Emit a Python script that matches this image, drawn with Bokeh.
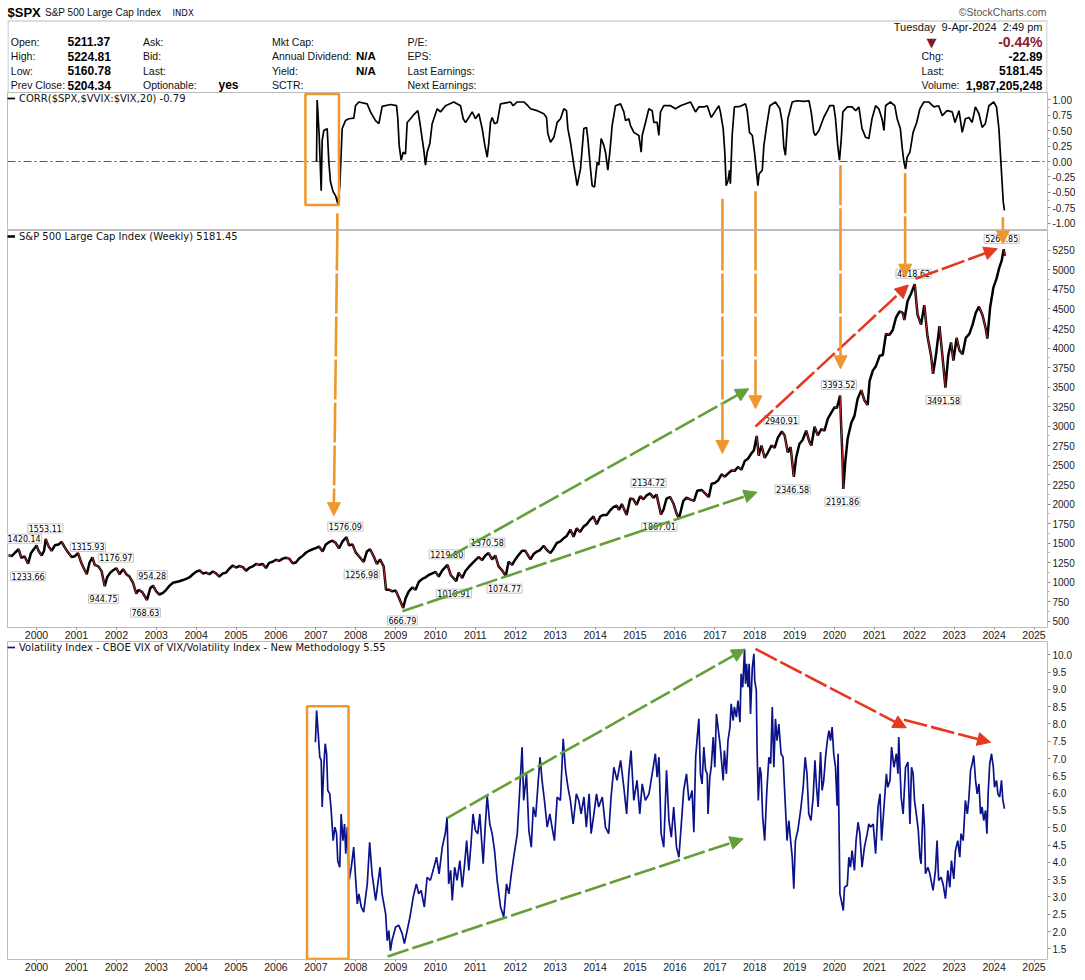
from bokeh.plotting import figure
from bokeh.models import (Range1d, FixedTicker, NumeralTickFormatter, Label, Arrow,
                          NormalHead, BoxAnnotation, Span, ColumnDataSource)
from bokeh.layouts import column
from bokeh.embed import file_html
from bokeh.resources import INLINE

# ---------------- data ----------------
spx_t = [1999.30, 1999.38, 1999.46, 1999.55, 1999.62, 1999.70, 1999.79, 1999.86, 1999.94,
         2000.00, 2000.05, 2000.13, 2000.19, 2000.23, 2000.30, 2000.38, 2000.46, 2000.55, 2000.63, 2000.70, 2000.79, 2000.88, 2000.96,
         2001.04, 2001.12, 2001.20, 2001.26, 2001.33, 2001.40, 2001.46, 2001.55, 2001.63, 2001.71, 2001.77, 2001.85, 2001.92,
         2002.00, 2002.08, 2002.17, 2002.25, 2002.33, 2002.42, 2002.50, 2002.56, 2002.65, 2002.77, 2002.85, 2002.92,
         2003.00, 2003.08, 2003.17, 2003.25, 2003.33, 2003.42, 2003.50, 2003.58, 2003.67, 2003.75, 2003.83, 2003.92,
         2004.00, 2004.08, 2004.17, 2004.25, 2004.33, 2004.42, 2004.50, 2004.58, 2004.67, 2004.75, 2004.83, 2004.92,
         2005.00, 2005.08, 2005.17, 2005.25, 2005.33, 2005.42, 2005.50, 2005.58, 2005.67, 2005.75, 2005.83, 2005.92,
         2006.00, 2006.08, 2006.17, 2006.25, 2006.33, 2006.42, 2006.50, 2006.58, 2006.67, 2006.75, 2006.83, 2006.92,
         2007.00, 2007.08, 2007.17, 2007.25, 2007.33, 2007.42, 2007.50, 2007.58, 2007.67, 2007.77, 2007.83, 2007.92,
         2008.00, 2008.08, 2008.20, 2008.28, 2008.36, 2008.45, 2008.53, 2008.61, 2008.70, 2008.76, 2008.84, 2008.92,
         2009.00, 2009.08, 2009.19, 2009.25, 2009.33, 2009.42, 2009.50, 2009.58, 2009.67, 2009.75, 2009.83, 2009.92,
         2010.00, 2010.08, 2010.17, 2010.30, 2010.38, 2010.52, 2010.58, 2010.67, 2010.75, 2010.83, 2010.92,
         2011.00, 2011.08, 2011.17, 2011.25, 2011.33, 2011.42, 2011.50, 2011.58, 2011.67, 2011.76, 2011.83, 2011.92,
         2012.00, 2012.08, 2012.17, 2012.25, 2012.38, 2012.46, 2012.54, 2012.62, 2012.71, 2012.79, 2012.88, 2012.96,
         2013.04, 2013.13, 2013.21, 2013.29, 2013.38, 2013.46, 2013.54, 2013.62, 2013.71, 2013.79, 2013.88, 2013.96,
         2014.04, 2014.13, 2014.21, 2014.29, 2014.38, 2014.46, 2014.54, 2014.60, 2014.67, 2014.79, 2014.88, 2014.96,
         2015.04, 2015.13, 2015.21, 2015.29, 2015.38, 2015.46, 2015.54, 2015.65, 2015.71, 2015.79, 2015.88, 2015.96,
         2016.04, 2016.10, 2016.21, 2016.29, 2016.38, 2016.48, 2016.56, 2016.67, 2016.75, 2016.85, 2016.92,
         2017.00, 2017.08, 2017.17, 2017.25, 2017.33, 2017.42, 2017.50, 2017.58, 2017.67, 2017.75, 2017.83, 2017.92, 2017.98,
         2018.05, 2018.10, 2018.17, 2018.25, 2018.33, 2018.42, 2018.50, 2018.58, 2018.68, 2018.75, 2018.83, 2018.90, 2018.98,
         2019.04, 2019.12, 2019.20, 2019.29, 2019.37, 2019.42, 2019.50, 2019.58, 2019.67, 2019.75, 2019.83, 2019.92,
         2020.00, 2020.06, 2020.14, 2020.17, 2020.20, 2020.22, 2020.27, 2020.33, 2020.42, 2020.50, 2020.58, 2020.67, 2020.75, 2020.83, 2020.88, 2020.96,
         2021.04, 2021.13, 2021.21, 2021.29, 2021.38, 2021.46, 2021.54, 2021.63, 2021.71, 2021.75, 2021.83, 2021.92,
         2022.01, 2022.08, 2022.17, 2022.25, 2022.33, 2022.42, 2022.47, 2022.54, 2022.63, 2022.71, 2022.78, 2022.85, 2022.92, 2022.98,
         2023.06, 2023.13, 2023.21, 2023.29, 2023.38, 2023.46, 2023.54, 2023.62, 2023.71, 2023.79, 2023.83, 2023.90, 2023.98,
         2024.06, 2024.13, 2024.19, 2024.24, 2024.27]
spx_v = [1345, 1332, 1375, 1420, 1310, 1330, 1234, 1370, 1425,
         1469, 1400, 1340, 1400, 1553, 1460, 1400, 1470, 1480, 1515, 1450, 1380, 1320, 1330,
         1370, 1250, 1160, 1100, 1250, 1316, 1220, 1200, 1140, 945, 1060, 1120, 1150,
         1177, 1100, 1165, 1100, 1070, 990, 850, 900, 870, 769, 920, 954,
         880, 840, 860, 900, 950, 990, 1000, 1010, 1025, 1040, 1058, 1100,
         1130, 1150, 1110, 1120, 1100, 1135, 1110, 1070, 1110, 1120, 1170, 1212,
         1185, 1205, 1190, 1145, 1180, 1200, 1230, 1220, 1230, 1180, 1245, 1260,
         1285, 1270, 1300, 1310, 1300, 1240, 1250, 1300, 1335, 1375, 1400, 1420,
         1435, 1455, 1390, 1480, 1510, 1530, 1500, 1430, 1520, 1576, 1470, 1480,
         1380, 1330, 1257, 1390, 1420, 1330, 1230, 1290, 1200, 900, 900, 880,
         890, 800, 667, 790, 880, 930, 900, 1000, 1040, 1060, 1090, 1110,
         1130, 1070, 1150, 1220, 1090, 1011, 1120, 1050, 1140, 1190, 1240,
         1280, 1320, 1280, 1340, 1371, 1290, 1340, 1200, 1150, 1075, 1260, 1220,
         1290, 1345, 1400, 1400, 1290, 1360, 1390, 1410, 1465, 1410, 1370, 1430,
         1500, 1520, 1560, 1590, 1670, 1580, 1690, 1640, 1710, 1740, 1800, 1840,
         1740, 1840, 1860, 1860, 1920, 1960, 1980, 1925, 2000, 1860, 2070, 2060,
         1990, 2100, 2060, 2110, 2135, 2080, 2120, 1867, 1920, 2070, 2090, 2010,
         1880, 1810, 2040, 2080, 2060, 2040, 2170, 2180, 2140, 2090, 2260,
         2270, 2300, 2380, 2350, 2390, 2430, 2425, 2475, 2440, 2550, 2580, 2650, 2690,
         2873, 2620, 2750, 2590, 2660, 2750, 2720, 2850, 2930, 2880, 2660, 2730, 2347,
         2600, 2770, 2820, 2940, 2800, 2750, 2990, 2880, 2960, 2940, 3090, 3170,
         3240, 3230, 3390, 2960, 2600, 2192, 2540, 2840, 3040, 3130, 3350, 3460, 3330, 3270, 3580, 3710,
         3770, 3900, 3910, 4180, 4170, 4230, 4390, 4470, 4450, 4360, 4600, 4700,
         4819, 4430, 4300, 4550, 4150, 3900, 3670, 3900, 4280, 3870, 3492, 3900, 4070, 3840,
         4130, 3970, 3920, 4130, 4180, 4300, 4450, 4530, 4420, 4250, 4120, 4520, 4770,
         4890, 5030, 5120, 5265, 5181]

corr_t = [2007.018, 2007.034, 2007.085, 2007.135, 2007.160, 2007.201, 2007.285, 2007.327, 2007.368, 2007.435,
          2007.494, 2007.552, 2007.602, 2007.661, 2007.744, 2007.828, 2007.953, 2007.995, 2008.079, 2008.287,
          2008.371, 2008.496, 2008.580, 2008.663, 2008.872, 2009.023, 2009.056, 2009.089, 2009.140, 2009.190,
          2009.248, 2009.290, 2009.373, 2009.474, 2009.557, 2009.607, 2009.666, 2009.708, 2009.749, 2009.791,
          2009.858, 2009.916, 2010.042, 2010.125, 2010.251, 2010.459, 2010.627, 2010.693, 2010.752, 2010.835,
          2010.919, 2011.002, 2011.086, 2011.170, 2011.236, 2011.295, 2011.337, 2011.378, 2011.420, 2011.479,
          2011.546, 2011.629, 2011.880, 2011.947, 2012.047, 2012.214, 2012.314, 2012.381, 2012.548, 2012.715,
          2012.782, 2012.815, 2012.882, 2012.966, 2013.049, 2013.133, 2013.216, 2013.283, 2013.317, 2013.383,
          2013.467, 2013.550, 2013.634, 2013.717, 2013.784, 2013.818, 2013.884, 2013.926, 2013.985, 2014.052,
          2014.093, 2014.152, 2014.219, 2014.260, 2014.319, 2014.369, 2014.427, 2014.511, 2014.636, 2014.720,
          2014.762, 2014.845, 2014.887, 2014.971, 2015.096, 2015.155, 2015.180, 2015.263, 2015.347, 2015.430,
          2015.472, 2015.555, 2015.597, 2015.639, 2015.722, 2015.890, 2016.015, 2016.140, 2016.390, 2016.516,
          2016.600, 2016.725, 2016.810, 2016.910, 2017.020, 2017.100, 2017.140, 2017.210, 2017.250, 2017.285,
          2017.330, 2017.370, 2017.390, 2017.435, 2017.490, 2017.640, 2017.770, 2017.810, 2017.870, 2017.940,
          2017.995, 2018.045, 2018.080, 2018.110, 2018.190, 2018.230, 2018.300, 2018.380, 2018.520, 2018.630,
          2018.690, 2018.730, 2018.770, 2018.830, 2018.940, 2019.060, 2019.230, 2019.360, 2019.415, 2019.480,
          2019.520, 2019.610, 2019.730, 2019.820, 2019.880, 2019.980, 2020.025, 2020.080, 2020.125, 2020.170,
          2020.210, 2020.320, 2020.440, 2020.530, 2020.610, 2020.690, 2020.780, 2020.860, 2020.940, 2021.030,
          2021.110, 2021.190, 2021.240, 2021.280, 2021.400, 2021.510, 2021.570, 2021.650, 2021.700, 2021.740,
          2021.780, 2021.820, 2021.890, 2021.970, 2022.060, 2022.140, 2022.240, 2022.360, 2022.490, 2022.610,
          2022.700, 2022.820, 2022.950, 2023.020, 2023.120, 2023.200, 2023.280, 2023.370, 2023.450, 2023.530,
          2023.620, 2023.700, 2023.780, 2023.870, 2023.990, 2024.060, 2024.120, 2024.180, 2024.230, 2024.260]
corr_v = [0.00, 0.99, 0.42, -0.47, 0.34, 0.50, 0.53, -0.01, -0.33, -0.49,
          -0.55, -0.68, -0.39, 0.53, 0.66, 0.69, 0.70, 0.90, 0.96, 0.93,
          0.80, 0.66, 0.61, 0.89, 0.92, 0.90, 0.69, 0.26, 0.02, 0.15,
          0.12, 0.63, 0.69, 0.77, 0.82, 0.63, 0.37, 0.18, -0.06, 0.15,
          0.29, 0.61, 0.85, 0.80, 0.90, 0.96, 0.90, 0.69, 0.63, 0.71,
          0.80, 0.69, 0.77, 0.53, 0.26, 0.07, 0.31, 0.63, 0.71, 0.61,
          0.63, 0.93, 0.96, 0.90, 0.96, 0.96, 0.90, 0.85, 0.82, 0.77,
          0.71, 0.45, 0.31, 0.39, 0.63, 0.69, 0.85, 0.82, 0.53, 0.31,
          -0.06, -0.39, -0.12, 0.53, 0.55, 0.37, -0.12, -0.39, -0.41, -0.01,
          -0.06, 0.37, 0.26, 0.15, -0.14, 0.15, 0.58, 0.90, 0.93, 0.80,
          0.66, 0.69, 0.58, 0.47, 0.42, 0.15, 0.42, 0.63, 0.85, 0.82,
          0.63, 0.63, 0.42, 0.80, 0.90, 0.90, 0.85, 0.90, 0.96, 0.80,
          0.88, 0.88, 0.90, 0.71, 0.82, 0.90, 0.80, 0.53, 0.15, -0.39,
          -0.31, -0.14, -0.36, 0.42, 0.88, 0.89, 0.93, 0.82, 0.47, 0.42,
          0.15, -0.17, -0.39, -0.20, -0.14, 0.26, 0.58, 0.90, 0.96, 0.85,
          0.63, 0.23, 0.10, 0.69, 0.96, 0.98, 0.97, 0.98, 0.80, 0.47,
          0.42, 0.50, 0.71, 0.82, 0.90, 0.90, 0.69, 0.26, 0.02, 0.37,
          0.80, 0.88, 0.88, 0.82, 0.88, 0.53, 0.39, 0.37, 0.69, 0.90,
          0.85, 0.69, 0.50, 0.90, 0.96, 0.90, 0.69, 0.53, 0.20, -0.01,
          -0.12, 0.07, 0.15, 0.47, 0.63, 0.85, 0.96, 0.96, 0.88, 0.90,
          0.74, 0.82, 0.80, 0.63, 0.82, 0.47, 0.69, 0.71, 0.63, 0.88,
          0.77, 0.55, 0.61, 0.90, 0.96, 0.88, 0.53, -0.12, -0.66, -0.79]

vvix_t = [2006.99, 2007.02, 2007.05, 2007.10, 2007.135, 2007.16, 2007.20, 2007.235, 2007.27, 2007.30,
          2007.35, 2007.385, 2007.435, 2007.48, 2007.52, 2007.55, 2007.60, 2007.635, 2007.68, 2007.72,
          2007.75, 2007.79, 2007.835, 2007.89, 2007.95, 2007.995, 2008.04, 2008.08, 2008.14, 2008.20,
          2008.29, 2008.35, 2008.41, 2008.50, 2008.61, 2008.66, 2008.75, 2008.79, 2008.83, 2008.87,
          2008.91, 2009.00, 2009.08, 2009.165, 2009.22, 2009.29, 2009.36, 2009.44, 2009.52, 2009.58,
          2009.64, 2009.72, 2009.79, 2009.87, 2009.94, 2010.025, 2010.09, 2010.17, 2010.25, 2010.29,
          2010.33, 2010.38, 2010.42, 2010.48, 2010.54, 2010.61, 2010.67, 2010.73, 2010.78, 2010.835,
          2010.89, 2010.94, 2011.00, 2011.06, 2011.11, 2011.195, 2011.245, 2011.295, 2011.36, 2011.42,
          2011.48, 2011.545, 2011.63, 2011.71, 2011.78, 2011.84, 2011.90, 2011.96, 2012.05, 2012.11,
          2012.17, 2012.21, 2012.28, 2012.34, 2012.40, 2012.45, 2012.51, 2012.57, 2012.62, 2012.67,
          2012.73, 2012.80, 2012.865, 2012.92, 2012.98, 2013.05, 2013.13, 2013.20, 2013.26, 2013.32,
          2013.38, 2013.45, 2013.53, 2013.59, 2013.65, 2013.72, 2013.78, 2013.85, 2013.90, 2013.97,
          2014.035, 2014.09, 2014.18, 2014.26, 2014.34, 2014.40, 2014.47, 2014.55, 2014.64, 2014.72,
          2014.79, 2014.845, 2014.90, 2014.97, 2015.05, 2015.12, 2015.18, 2015.26, 2015.35, 2015.43,
          2015.51, 2015.555, 2015.60, 2015.655, 2015.72, 2015.79, 2015.85, 2015.91, 2015.97, 2016.04,
          2016.10, 2016.155, 2016.22, 2016.29, 2016.35,
          2016.39, 2016.43, 2016.475, 2016.52, 2016.56, 2016.60, 2016.64, 2016.68, 2016.725, 2016.77,
          2016.81, 2016.83, 2016.875, 2016.91, 2016.96, 2017.00, 2017.04, 2017.08, 2017.13, 2017.16,
          2017.21, 2017.24, 2017.29, 2017.33, 2017.38, 2017.41, 2017.46, 2017.49, 2017.54, 2017.58,
          2017.63, 2017.66, 2017.70, 2017.745, 2017.77, 2017.795, 2017.83, 2017.86, 2017.895, 2017.94,
          2017.98, 2018.00, 2018.04, 2018.06, 2018.09, 2018.13, 2018.16, 2018.20, 2018.25, 2018.30,
          2018.355, 2018.40, 2018.44, 2018.48, 2018.52, 2018.56, 2018.605, 2018.66, 2018.71, 2018.77,
          2018.81, 2018.855, 2018.90, 2018.94, 2018.98, 2019.02, 2019.08, 2019.15, 2019.215, 2019.265,
          2019.31, 2019.355, 2019.41, 2019.465, 2019.51, 2019.55, 2019.59, 2019.65, 2019.69, 2019.73,
          2019.775, 2019.82, 2019.86, 2019.90, 2019.94, 2019.98, 2020.025, 2020.065, 2020.09, 2020.135,
          2020.17, 2020.22, 2020.25, 2020.32, 2020.36, 2020.40, 2020.44, 2020.50, 2020.54, 2020.59,
          2020.635, 2020.69, 2020.75, 2020.82, 2020.86, 2020.90, 2020.97, 2021.03, 2021.09, 2021.14,
          2021.18, 2021.24, 2021.30, 2021.335, 2021.39, 2021.43, 2021.49, 2021.55, 2021.59, 2021.61,
          2021.67, 2021.72, 2021.78, 2021.84, 2021.89, 2021.93, 2021.97, 2022.005, 2022.06, 2022.10,
          2022.14, 2022.17, 2022.22, 2022.255, 2022.28, 2022.34, 2022.39, 2022.42, 2022.47, 2022.53,
          2022.57, 2022.61, 2022.67, 2022.72, 2022.78, 2022.84, 2022.89, 2022.93, 2022.99, 2023.03,
          2023.09, 2023.14, 2023.17, 2023.225, 2023.28, 2023.33, 2023.37, 2023.41, 2023.45, 2023.49,
          2023.535, 2023.575, 2023.62, 2023.66, 2023.70, 2023.74, 2023.785, 2023.82, 2023.85, 2023.89,
          2023.935, 2023.98, 2024.01, 2024.06, 2024.095, 2024.14, 2024.185, 2024.22, 2024.26]
vvix_v = [7.47, 8.39, 7.91, 7.04, 6.95, 5.60, 6.75, 7.43, 7.14, 6.08,
          5.98, 5.50, 4.63, 5.02, 4.83, 4.05, 3.86, 5.40, 4.63, 5.11,
          4.25, 5.02, 3.48, 3.86, 4.44, 3.57, 2.80, 3.09, 2.71, 2.56,
          3.38, 4.58, 3.67, 2.90, 3.86, 3.09, 2.51, 1.74, 2.03, 1.45,
          1.74, 2.13, 2.18, 1.94, 1.65, 2.03, 2.42, 2.99, 3.38, 3.09,
          3.19, 2.71, 3.57, 3.48, 3.77, 4.15, 3.67, 4.44, 4.87, 5.31,
          3.38, 3.77, 2.90, 3.86, 3.48, 4.05, 3.28, 3.96, 4.63, 3.77,
          4.54, 5.40, 4.92, 4.83, 5.40, 3.96, 5.02, 5.93, 5.11, 4.83,
          4.34, 3.48, 2.71, 2.42, 3.38, 3.09, 3.67, 4.15, 4.83, 6.08,
          7.33, 5.79, 6.56, 4.92, 4.44, 5.60, 5.31, 6.27, 7.04, 6.37,
          5.79, 5.02, 5.40, 5.02, 4.63, 5.89, 5.79, 7.57, 6.66, 6.17,
          5.79, 5.11, 5.98, 5.79, 5.40, 5.89, 5.02, 5.98, 4.83, 5.40,
          5.98, 5.60, 5.89, 5.02, 4.83, 5.89, 6.75, 6.37, 6.95, 6.17,
          5.40, 6.56, 7.23, 5.79, 6.37, 5.40, 6.27, 5.79, 5.98, 6.56,
          7.14, 6.46, 7.04, 4.83, 4.44, 6.66, 5.21, 4.73, 5.60, 4.44,
          4.15, 5.02, 6.08, 6.56, 5.79,
          5.89, 6.08, 4.87, 7.04, 7.62, 8.15, 6.56, 6.27, 7.33, 6.66,
          6.56, 5.40, 6.46, 6.75, 7.62, 6.75, 8.29, 7.91, 7.43, 7.04,
          6.37, 7.23, 6.56, 7.52, 7.91, 8.58, 8.10, 8.49, 8.20, 8.68,
          8.05, 9.45, 9.06, 10.17, 9.16, 9.74, 9.06, 9.74, 8.29, 9.64,
          10.03, 9.26, 8.97, 7.23, 5.79, 6.75, 6.56, 5.31, 4.63, 5.98,
          7.04, 6.85, 8.49, 6.75, 8.15, 7.52, 8.00, 7.14, 7.04, 5.60,
          4.63, 5.21, 4.63, 4.15, 3.24, 4.63, 4.92, 5.50, 6.17, 7.04,
          6.56, 5.40, 5.21, 5.89, 6.95, 6.17, 5.60, 7.19, 6.08, 6.37,
          7.04, 7.52, 7.81, 7.52, 7.91, 7.14, 6.75, 5.64, 7.14, 3.09,
          2.90, 2.61, 3.28, 3.33, 4.15, 3.86, 4.34, 3.77, 4.63, 5.16,
          4.83, 3.86, 4.44, 4.83, 5.11, 5.02, 5.11, 4.25, 5.60, 5.98,
          4.63, 5.60, 6.56, 6.17, 6.37, 7.33, 6.75, 7.14, 6.56, 7.62,
          5.89, 5.40, 6.75, 6.90, 5.11, 6.75, 6.56, 5.79, 5.31, 4.92,
          4.15, 3.96, 5.69, 5.02, 3.67, 3.86, 3.67, 3.48, 3.19, 3.77,
          4.63, 3.48, 3.57, 3.38, 2.95, 3.77, 3.28, 4.05, 3.52, 4.34,
          4.63, 4.15, 4.83, 4.63, 5.79, 5.40, 5.89, 6.66, 6.85, 7.09,
          6.37, 5.98, 6.27, 5.40, 5.60, 5.21, 5.50, 4.83, 5.98, 6.85,
          7.14, 6.75, 6.17, 6.37, 5.98, 5.89, 6.37, 5.79, 5.55]

# labelled swing highs / lows on the S&P panel
hi_t = [1999.54, 2000.22, 2001.29, 2001.99, 2002.90, 2007.74, 2010.28, 2011.30, 2015.34, 2018.67, 2020.11, 2021.98, 2024.19]
hi_v = [1420.14, 1553.11, 1315.93, 1176.97, 954.28, 1576.09, 1219.80, 1370.58, 2134.72, 2940.91, 3393.52, 4818.62, 5264.85]
hi_dx = [6, 0, 0, 0, 0, 0, 0, 0, 0, 0, 0, 0, 0]
lo_t = [1999.79, 2001.68, 2002.73, 2008.15, 2009.17, 2010.46, 2011.73, 2015.61, 2018.95, 2020.20, 2022.73]
lo_v = [1233.66, 944.75, 768.63, 1256.98, 666.79, 1010.91, 1074.77, 1867.01, 2346.58, 2191.86, 3491.58]

# axis ticks
year_ticks = list(range(2000, 2026))
corr_ticks = [-1.0, -0.75, -0.5, -0.25, 0.0, 0.25, 0.5, 0.75, 1.0]
spx_ticks = [500, 750, 1000, 1250, 1500, 1750, 2000, 2250, 2500, 2750, 3000, 3250, 3500, 3750,
             4000, 4250, 4500, 4750, 5000, 5250]
vix_ticks = [1.5, 2.0, 2.5, 3.0, 3.5, 4.0, 4.5, 5.0, 5.5, 6.0, 6.5, 7.0, 7.5, 8.0, 8.5, 9.0, 9.5, 10.0]

# annotation arrows (data units)
orange_t_top = [2007.54, 2017.19, 2018.02, 2020.15, 2021.77, 2024.22]
orange_t_tip = [2007.45, 2017.19, 2018.02, 2020.15, 2021.77, 2024.22]
orange_corr_from = [-0.84, -0.60, -0.48, -0.06, -0.19, -0.90]
orange_spx_tip = [1850, 2648, 3221, 3733, 4908, 5336]

spx_green = dict(x0=[2010.33, 2009.17], y0=[1318, 626], x1=[2017.85, 2018.06], y1=[3477, 2151])
spx_red = dict(x0=[2018.02, 2022.03], y0=[2994, 4887], x1=[2021.85, 2024.08], y1=[4808, 5272])
vix_green = dict(x0=[2010.29, 2008.80], y0=[5.28, 1.28], x1=[2017.75, 2017.71], y1=[10.16, 4.68])
vix_red = dict(x0=[2018.02, 2021.74], y0=[10.17, 8.12], x1=[2021.80, 2023.91], y1=[7.89, 7.47])

corr_box = dict(left=2006.74, right=2007.58, top=1.09, bottom=-0.70)
vix_box = dict(left=2006.78, right=2007.82, top=8.51, bottom=1.21)

# ---------------- styling ----------------
ORANGE = "#ef962f"
GREEN = "#64a03a"
RED = "#e5391f"
NAVY = "#0b128a"
BORDER = "#bcbcbc"
PAGE_W = 1085
FRAME_L = 7
FRAME_W = 1040
FRAME_R = FRAME_L + FRAME_W
AXFONT = "Liberation Sans"

xr = Range1d(1999.273, 2025.338)


def make_panel(frame_h, yr, ticks, minor, fmt, show_x, bottom):
    p = figure(frame_width=FRAME_W, frame_height=frame_h, x_range=xr, y_range=yr,
               output_backend="svg", toolbar_location=None,
               x_axis_location="below" if show_x else None, y_axis_location="right",
               min_border_left=FRAME_L, min_border_right=PAGE_W - FRAME_R,
               min_border_top=0, min_border_bottom=bottom,
               background_fill_color="white", border_fill_color="white",
               outline_line_color=BORDER, outline_line_width=1)
    p.grid.visible = False
    ya = p.yaxis[0]
    ya.ticker = FixedTicker(ticks=ticks, minor_ticks=minor)
    ya.formatter = NumeralTickFormatter(format=fmt)
    ya.axis_line_color = None
    ya.major_tick_out = 3
    ya.major_tick_in = 0
    ya.minor_tick_out = 2
    ya.minor_tick_in = 0
    ya.major_tick_line_color = "#8a8a8a"
    ya.minor_tick_line_color = "#b0b0b0"
    ya.major_label_text_font = AXFONT
    ya.major_label_text_font_size = "10px"
    ya.major_label_text_color = "#1a1a1a"
    ya.major_label_standoff = 2
    if show_x:
        xa = p.xaxis[0]
        xa.ticker = FixedTicker(ticks=year_ticks)
        xa.formatter = NumeralTickFormatter(format="0")
        xa.axis_line_color = None
        xa.major_tick_out = 2
        xa.major_tick_in = 0
        xa.minor_tick_line_color = None
        xa.major_tick_line_color = "#8a8a8a"
        xa.major_label_text_font = AXFONT
        xa.major_label_text_font_size = "10.5px"
        xa.major_label_text_color = "#1a1a1a"
        xa.major_label_standoff = 1
    return p


def style_legend(p):
    lg = p.legend[0]
    lg.location = "top_left"
    lg.margin = 0
    lg.padding = 2
    lg.spacing = 0
    lg.border_line_color = None
    lg.background_fill_alpha = 0
    lg.glyph_width = 8
    lg.glyph_height = 12
    lg.label_height = 12
    lg.label_standoff = 4
    lg.label_text_font = "DejaVu Sans"
    lg.label_text_font_size = "10px"
    lg.label_text_color = "#111111"


def arrows(p, d, color, dash):
    src = ColumnDataSource(d)
    p.add_layout(Arrow(x_start="x0", y_start="y0", x_end="x1", y_end="y1", source=src,
                       line_color=color, line_width=2.6, line_dash=dash,
                       end=NormalHead(size=13, fill_color=color, line_color=color, line_width=1)))


# ---------------- header (data x == page pixel x, data y == page pixel y) ----------------
HH = 92
hdr = figure(frame_width=FRAME_W, frame_height=HH,
             x_range=Range1d(FRAME_L, FRAME_R), y_range=Range1d(HH, 0),
             output_backend="svg", toolbar_location=None,
             x_axis_location=None, y_axis_location=None,
             min_border_left=FRAME_L, min_border_right=PAGE_W - FRAME_R,
             min_border_top=0, min_border_bottom=0,
             outline_line_color=None, background_fill_color="white", border_fill_color="white")
hdr.grid.visible = False
hdr.segment(x0=[FRAME_L, FRAME_L + 0.5, FRAME_R - 0.5], y0=[20.5, 20.5, 20.5],
            x1=[FRAME_R, FRAME_L + 0.5, FRAME_R - 0.5], y1=[20.5, HH, HH], line_color=BORDER, line_width=1)


def htxt(x, y, text, size="10.5px", bold=False, color="#111111", align="left", font="Liberation Sans"):
    hdr.add_layout(Label(x=x, y=y, text=text, text_font=font, text_font_size=size,
                         text_font_style="bold" if bold else "normal", text_color=color,
                         text_align=align, text_baseline="middle"))


htxt(7, 11.5, "$SPX", size="13px", bold=True, color="#000000")
htxt(44.5, 11.5, "S&P 500 Large Cap Index", size="10px")
htxt(172, 12, "INDX", size="8.5px", font="DejaVu Sans")
htxt(1046, 11.5, "\u00a9StockCharts.com", size="10.5px", color="#555555", align="right")

rows = [41.2, 55.6, 70.2, 84.6]
col_labels = [["Open:", "High:", "Low:", "Prev Close:"],
              ["Ask:", "Bid:", "Last:", "Optionable:"],
              ["Mkt Cap:", "Annual Dividend:", "Yield:", "SCTR:"],
              ["P/E:", "EPS:", "Last Earnings:", "Next Earnings:"]]
col_x = [10.3, 142.5, 271.5, 407]
for cx, labs in zip(col_x, col_labels):
    for ry, lab in zip(rows, labs):
        htxt(cx, ry, lab)
for ry, val in zip(rows, ["5211.37", "5224.81", "5160.78", "5204.34"]):
    htxt(67, ry, val, size="12px", bold=True, color="#000000")
htxt(218, rows[3], "yes", size="12px", bold=True, color="#000000")
htxt(355.5, rows[1], "N/A", size="11.5px", bold=True, color="#000000")
htxt(355.5, rows[2], "N/A", size="11.5px", bold=True, color="#000000")

htxt(1042, 26.5, "Tuesday\u00a0\u00a09-Apr-2024\u00a0\u00a02:49 pm", size="11px", align="right")
htxt(931, 41.5, "\u25bc", size="13px", color="#7d1a2c", align="center", font="DejaVu Sans")
htxt(1042, rows[0], "-0.44%", size="14px", bold=True, color="#8b1c2e", align="right")
for ry, lab, val in zip(rows[1:], ["Chg:", "Last:", "Volume:"], ["-22.89", "5181.45", "1,987,205,248"]):
    htxt(921, ry, lab)
    htxt(1042, ry, val, size="12px", bold=True, color="#000000", align="right")

# ---------------- correlation panel ----------------
corr_lo, corr_hi = -1.113, 1.113
pc = make_panel(138, Range1d(corr_lo, corr_hi), corr_ticks,
                [-0.875, -0.625, -0.375, -0.125, 0.125, 0.375, 0.625, 0.875], "0.00", False, 0)
pc.add_layout(Span(location=0, dimension="width", line_color="#5a5a5a", line_width=1,
                   line_dash="8 3 2 3", level="underlay"))
pc.line(corr_t, corr_v, line_color="black", line_width=1.7,
        legend_label="CORR($SPX,$VVIX:$VIX,20) -0.79")
style_legend(pc)
pc.segment(x0=orange_t_top, y0=orange_corr_from, x1=orange_t_top,
           y1=[corr_lo] * len(orange_t_top), line_color=ORANGE, line_width=2.6, line_dash="40 3")
pc.add_layout(BoxAnnotation(left=corr_box["left"], right=corr_box["right"], top=corr_box["top"],
                            bottom=corr_box["bottom"], fill_alpha=0, fill_color=None,
                            line_color=ORANGE, line_width=2.5, line_alpha=1))

# ---------------- S&P 500 panel ----------------
spx_lo, spx_hi = 416.7, 5506.4
ps = make_panel(397, Range1d(spx_lo, spx_hi), spx_ticks,
                [625, 875, 1125, 1375, 1625, 1875, 2125, 2375, 2625, 2875, 3125, 3375, 3625,
                 3875, 4125, 4375, 4625, 4875, 5125, 5375], "0", True, 14)
ps.line(spx_t, spx_v, line_color="black", line_width=2.5,
        legend_label="S&P 500 Large Cap Index (Weekly) 5181.45")
style_legend(ps)
down = [i for i in range(len(spx_v) - 1) if spx_v[i + 1] < spx_v[i]]
ps.segment(x0=[spx_t[i] for i in down], y0=[spx_v[i] for i in down],
           x1=[spx_t[i + 1] for i in down], y1=[spx_v[i + 1] for i in down],
           line_color="#c1272d", line_width=1.0)

for t, v, dx in zip(hi_t, hi_v, hi_dx):
    ps.add_layout(Label(x=t, y=v, text=f"{v:.2f}", text_align="center", text_baseline="bottom",
                        x_offset=dx, y_offset=6, text_font="DejaVu Sans", text_font_size="8px",
                        text_color="#000000", background_fill_color="white",
                        border_line_color="#c4c4c4", padding=1))
for t, v in zip(lo_t, lo_v):
    ps.add_layout(Label(x=t, y=v, text=f"{v:.2f}", text_align="center", text_baseline="top",
                        y_offset=-8, text_font="DejaVu Sans", text_font_size="8px", text_color="#000000",
                        background_fill_color="white", border_line_color="#c4c4c4", padding=1))

arrows(ps, spx_green, GREEN, "22 4")
arrows(ps, spx_red, RED, "24 4")
arrows(ps, dict(x0=orange_t_top, y0=[spx_hi] * len(orange_t_top), x1=orange_t_tip, y1=orange_spx_tip),
       ORANGE, "40 3")

# ---------------- VIX of VIX / VIX panel ----------------
vix_lo, vix_hi = 1.193, 10.384
pv = make_panel(318, Range1d(vix_lo, vix_hi), vix_ticks, [], "0.0", True, 14)
pv.line(vvix_t, vvix_v, line_color=NAVY, line_width=1.7,
        legend_label="Volatility Index - CBOE VIX of VIX/Volatility Index - New Methodology 5.55")
style_legend(pv)
arrows(pv, vix_green, GREEN, "22 4")
arrows(pv, vix_red, RED, "24 4")
pv.add_layout(BoxAnnotation(left=vix_box["left"], right=vix_box["right"], top=vix_box["top"],
                            bottom=vix_box["bottom"], fill_alpha=0, fill_color=None,
                            line_color=ORANGE, line_width=2.5, line_alpha=1))

layout = column(hdr, pc, ps, pv, spacing=0)
open("out.html", "w").write(file_html(layout, INLINE, title="SPX"))
